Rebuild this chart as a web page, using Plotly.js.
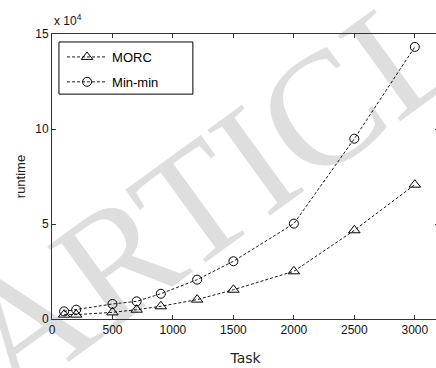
<!DOCTYPE html>
<html>
<head>
<meta charset="utf-8">
<script src="https://cdn.plot.ly/plotly-3.0.1.min.js"></script>
<style>
  html, body { margin: 0; padding: 0; background: #ffffff; overflow: hidden; width: 436px; height: 368px; }
  #wm {
    position: absolute; left: 252px; top: 162px;
    transform: translate(-50%, -50%) rotate(-36deg);
    font-family: "Liberation Serif", "DejaVu Serif", serif;
    font-size: 162px; line-height: 1; color: #dedede;
    white-space: nowrap; z-index: 0; user-select: none;
  }
  #chart { position: absolute; left: 0; top: 0; z-index: 1; }
</style>
</head>
<body>
<div id="wm">ARTICLE</div>
<div id="chart"></div>
<script>
// Number of tasks
const tasks = [100, 200, 500, 700, 900, 1200, 1500, 2000, 2500, 3000];
// Runtime of each scheduler
const morc   = [2300, 2300, 3500, 4900, 6700, 10200, 15400, 25100, 46700, 70700];
const minmin = [4000, 4900, 7900, 9300, 13300, 20700, 30400, 50200, 94900, 143200];
// Axis ticks (runtime shown in units of 10^4)
const xTicks = [0, 500, 1000, 1500, 2000, 2500, 3000];
const yTickVals = [0, 50000, 100000, 150000];
const yTickText = ['0', '5', '10', '15'];

const lineStyle = { color: '#000000', width: 0.9, dash: '3px,2px' };

const traces = [
  {
    x: tasks, y: morc, name: 'MORC', legendgroup: 'morc', type: 'scatter', mode: 'lines+markers',
    line: lineStyle,
    marker: { symbol: 'triangle-up-open', size: 10, color: '#000000', line: { width: 1, color: '#000000' } }
  },
  {
    x: tasks, y: minmin, name: 'Min-min', legendgroup: 'minmin', type: 'scatter', mode: 'lines+markers',
    line: lineStyle,
    marker: { symbol: 'circle-open', size: 9, color: '#000000', line: { width: 1, color: '#000000' } }
  }
];

const tickFont = { family: 'Liberation Sans, Arial, sans-serif', size: 12, color: '#111111' };

const layout = {
  width: 448, height: 368,
  margin: { l: 52, r: 9, t: 34, b: 49 },
  paper_bgcolor: 'rgba(0,0,0,0)',
  plot_bgcolor: 'rgba(0,0,0,0)',
  showlegend: true,
  legend: {
    x: 0.026, y: 0.972, xanchor: 'left', yanchor: 'top',
    bgcolor: 'rgba(0,0,0,0)', borderwidth: 0,
    itemwidth: 40, traceorder: 'grouped', tracegroupgap: 5,
    font: { family: 'Liberation Sans, Arial, sans-serif', size: 13, color: '#000000' }
  },
  // legend frame
  shapes: [
    {
      type: 'rect', xref: 'paper', yref: 'paper', layer: 'above',
      x0: 0.018, x1: 0.364, y0: 0.789, y1: 0.972,
      fillcolor: '#ffffff', line: { color: '#000000', width: 1 }
    }
  ],
  xaxis: {
    range: [0, 3200], tickvals: xTicks, ticks: 'inside', ticklen: 4,
    showline: true, mirror: 'allticks', linecolor: '#333333', linewidth: 1,
    tickcolor: '#333333', showgrid: false, zeroline: false,
    tickfont: tickFont,
    title: { text: 'Task', font: { family: 'DejaVu Sans, sans-serif', size: 14, color: '#222222' }, standoff: 16 }
  },
  yaxis: {
    range: [0, 150000], tickvals: yTickVals, ticktext: yTickText,
    ticks: 'inside', ticklen: 4,
    showline: true, mirror: 'allticks', linecolor: '#333333', linewidth: 1,
    tickcolor: '#333333', showgrid: false, zeroline: false,
    tickfont: tickFont,
    title: { text: 'runtime', font: { family: 'Liberation Sans, Arial, sans-serif', size: 13, color: '#222222' }, standoff: 6 }
  },
  annotations: [
    {
      text: 'x 10<sup>4</sup>', xref: 'paper', yref: 'paper', x: 0, y: 1,
      xanchor: 'left', yanchor: 'bottom', yshift: 4, showarrow: false,
      font: { family: 'Liberation Sans, Arial, sans-serif', size: 12, color: '#111111' }
    }
  ]
};

Plotly.newPlot('chart', traces, layout, { staticPlot: true, displayModeBar: false });
</script>
</body>
</html>
